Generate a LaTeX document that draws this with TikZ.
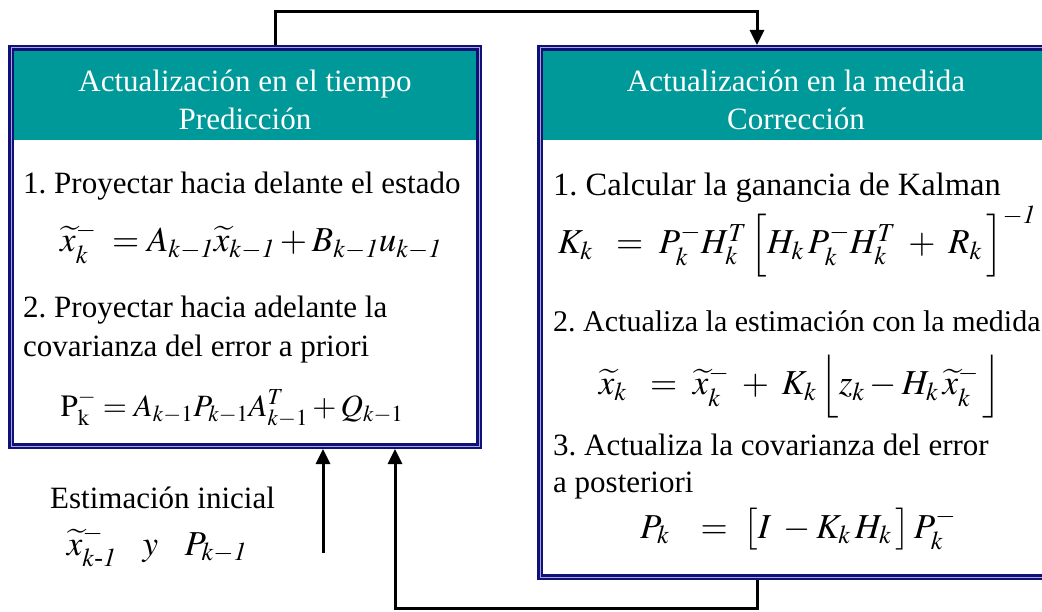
\documentclass[tikz,border=0pt]{standalone}
\usepackage{amsmath}
\usepackage{mathptmx}
\usepackage{fontspec}
\setmainfont{Liberation Serif}
\frenchspacing
\usetikzlibrary{arrows.meta}
\definecolor{azulmarino}{RGB}{16,16,120}
\definecolor{lavanda}{RGB}{165,165,215}
\definecolor{turquesa}{RGB}{0,153,153}

\begin{document}
\begin{tikzpicture}[x=1pt,y=-1pt,
  caja/.style={draw=azulmarino,line width=2.5pt,double=lavanda,double distance=1pt,inner sep=0pt,outer sep=3pt},
  cabecera/.style={fill=turquesa,text=white,align=center,inner sep=0pt,font=\fontsize{31}{38}\selectfont},
  texto/.style={anchor=base west,inner sep=0pt,font=\fontsize{31}{38}\selectfont},
  formula/.style={anchor=base,inner sep=0pt,font=\fontsize{35}{42}\selectfont},
  flujo/.style={line width=3pt,-{Triangle[length=15pt,width=14pt]}}]
\useasboundingbox (0,0) rectangle (1042,612);
% cabeceras
\node[cabecera,minimum width=464pt,minimum height=90pt] (predtit) at (245,95) {\rule{0pt}{31pt}Actualización en el tiempo\\Predicción};
\node[cabecera,minimum width=508pt,minimum height=90pt] (corrtit) at (796,95) {\rule{0pt}{31pt}Actualización en la medida\\Corrección};
% cajas
\node[caja,minimum width=468pt,minimum height=398pt] (pred) at (245,247) {};
\node[caja,minimum width=512pt,minimum height=529pt] (corr) at (796,312.5) {};
% prediccion
\node[texto] (p1) at (23,194) {1. Proyectar hacia delante el estado};
\node[formula] (f1) at (251,252) {$\widetilde{x}_k^{-}\; = A_{k-\mathit{1}}\widetilde{x}_{k-\mathit{1}} + B_{k-\mathit{1}}u_{k-\mathit{1}}$};
\node[texto] (p2) at (23,318) {2. Proyectar hacia adelante la};
\node[texto] (p3) at (23,357) {covarianza del error a priori};
\node[formula,font=\fontsize{31}{38}\selectfont] (f2) at (232,416) {$\mathrm{P}_{\mathrm{k}}^{-} = A_{k-1}P_{k-1}A_{k-1}^{T} + Q_{k-1}$};
% correccion
\node[texto,font=\fontsize{32.5}{38}\selectfont] (q1) at (553,196) {1. Calcular la ganancia de Kalman};
\node[formula] (f3) at (797,254) {$K_k\;\;=\;P_k^{-}H_k^{T}\,\Big[H_k\,P_k^{-}H_k^{T}\;+\;R_k\,\Big]^{-\mathit{1}}$};
\node[texto,font=\fontsize{30}{38}\selectfont] (q2) at (553,332) {2. Actualiza la estimación con la medida};
\node[formula] (f4) at (800,395) {$\widetilde{x}_k\;\;=\;\widetilde{x}_k^{-}\;+\;K_k\,\Big\lfloor z_k - H_k\,\widetilde{x}_k^{-}\,\Big\rfloor$};
\node[texto] (q3) at (553,455) {3. Actualiza la covarianza del error};
\node[texto] (q4) at (553,492) {a posteriori};
\node[formula] (f5) at (798,538) {$P_k\;\;\;=\;\big[I\; - K_k\,H_k\,\big]\,P_k^{-}$};
% estimacion inicial
\node[texto] (ini) at (50,508) {Estimación inicial};
\node[formula] (f6) at (157,555) {$\widetilde{x}_{k\text{-}\mathit{1}}^{-}\ \ \ y\ \ \ P_{k-\mathit{1}}$};
% conexiones
\coordinate (sube) at (275,12);
\coordinate (baja) at (757,12);
\coordinate (sale) at (757,608);
\coordinate (entra) at (395,608);
\coordinate (inicio) at (323,553);
\draw[flujo] (pred.north -| sube) -- (sube) -- (baja) -- (corr.north -| baja);
\draw[flujo] (corr.south -| sale) -- (sale) -- (entra) -- (pred.south -| entra);
\draw[flujo] (inicio) -- (pred.south -| inicio);
\end{tikzpicture}
\end{document}
